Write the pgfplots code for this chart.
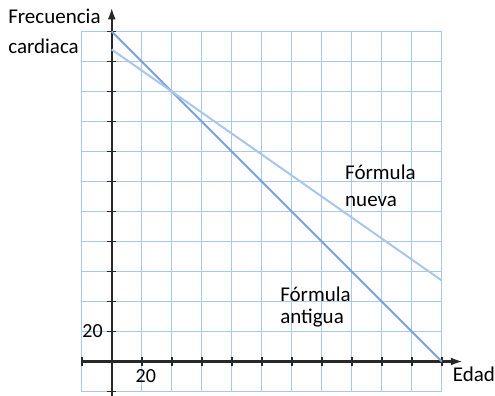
\documentclass[border=0pt]{standalone}
\usepackage{fontspec}
\setmainfont{Carlito}
\usepackage{pgfplots}
\pgfplotsset{compat=1.18}
\usetikzlibrary{arrows.meta}
\definecolor{gridblue}{RGB}{170,200,238}
\definecolor{oldline}{RGB}{122,162,214}
\definecolor{newline}{RGB}{168,198,236}
\definecolor{axisgray}{RGB}{40,40,40}

\begin{document}
\begin{tikzpicture}
\begin{axis}[
    x=1.5pt, y=1.5pt,
    xmin=-20, xmax=220, ymin=-20, ymax=220,
    axis lines=middle,
    clip=false,
    axis line style={axisgray, line width=2.2pt},
    x axis line style={-{Latex[length=12pt,width=8pt]}, shorten >=-21pt, shorten <=-1pt},
    y axis line style={-{Latex[length=12pt,width=8pt]}, shorten >=-24pt, shorten <=-4pt},
    xtick={-20,0,...,220}, ytick={-20,0,...,220},
    xticklabel=\empty, yticklabel=\empty,
    extra x ticks={20}, extra x tick labels={20},
    extra y ticks={20}, extra y tick labels={20},
    tick align=center,
    major tick length=9pt,
    tick style={axisgray, line width=1.8pt},
    grid=major,
    major grid style={draw=gridblue, line width=1.1pt},
    /pgf/number format/assume math mode=true,
    ticklabel style={font=\fontsize{20}{24}\selectfont},
    xticklabel style={anchor=north, xshift=4pt, yshift=0pt},
    yticklabel style={anchor=east, xshift=-1pt},
]
\addplot[oldline, line width=2pt] coordinates {(0,220) (220,0)};
\addplot[newline, line width=2pt] coordinates {(0,208) (220,54)};

\begin{scope}[every node/.style={inner sep=0pt, font=\fontsize{21}{25}\selectfont}]
\node[anchor=base west] at (axis cs:-69.1,225.6) {Frecuencia};
\node[anchor=base west] at (axis cs:-69.1,205.6) {cardiaca};
\node[anchor=base west] at (axis cs:155.5,121.6) {Fórmula};
\node[anchor=base west] at (axis cs:155.5,103.3) {nueva};
\node[anchor=base west] at (axis cs:112.2,40) {Fórmula};
\node[anchor=base west] at (axis cs:112.2,25.6) {antigua};
\node[anchor=base west] at (axis cs:227.3,-13.3) {Edad};
\end{scope}
\path (axis cs:-74.5,-22.9) rectangle (axis cs:255.5,241);
\end{axis}
\end{tikzpicture}
\end{document}
